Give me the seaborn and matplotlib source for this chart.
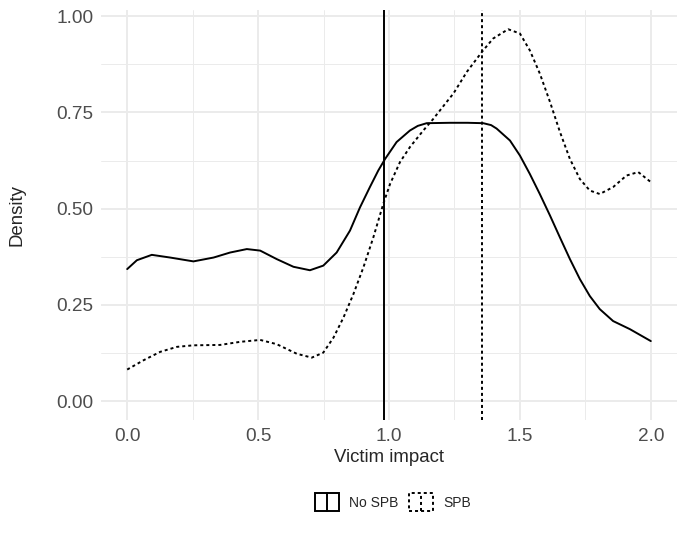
import matplotlib
matplotlib.use("Agg")
import matplotlib.pyplot as plt
import seaborn as sns
import pandas as pd
from matplotlib.patches import Rectangle
from matplotlib.lines import Line2D
from matplotlib.legend_handler import HandlerBase

# ---- data ----
groups = ["No SPB", "SPB"]
nospb_x = [0.0, 0.037, 0.094, 0.164, 0.253, 0.330, 0.393, 0.457, 0.508, 0.571, 0.635, 0.698, 0.749,
           0.800, 0.851, 0.889, 0.927, 0.959, 0.985, 1.029, 1.080, 1.110, 1.144, 1.233, 1.300, 1.360, 1.390,
           1.411, 1.462, 1.500, 1.538, 1.576, 1.615, 1.653, 1.691, 1.729, 1.767, 1.805, 1.856, 1.920, 2.0]
nospb_y = [0.343, 0.366, 0.380, 0.373, 0.363, 0.373, 0.386, 0.395, 0.391, 0.369, 0.349, 0.340, 0.352,
           0.386, 0.443, 0.503, 0.556, 0.599, 0.629, 0.673, 0.703, 0.715, 0.722, 0.723, 0.723, 0.722, 0.717,
           0.708, 0.677, 0.638, 0.590, 0.538, 0.482, 0.425, 0.369, 0.317, 0.273, 0.239, 0.208, 0.187, 0.156]
spb_x = [0.0, 0.062, 0.126, 0.190, 0.253, 0.355, 0.431, 0.508, 0.571, 0.648, 0.705, 0.749, 0.788,
         0.826, 0.864, 0.902, 0.940, 0.978, 1.004, 1.042, 1.080, 1.131, 1.169, 1.220, 1.246, 1.297,
         1.357, 1.398, 1.455, 1.500, 1.538, 1.576, 1.615, 1.653, 1.691, 1.729, 1.767, 1.805, 1.856,
         1.907, 1.952, 2.0]
spb_y = [0.082, 0.106, 0.128, 0.141, 0.145, 0.146, 0.154, 0.159, 0.148, 0.123, 0.113, 0.126, 0.165,
         0.217, 0.278, 0.347, 0.425, 0.512, 0.564, 0.621, 0.660, 0.703, 0.733, 0.777, 0.799, 0.855,
         0.909, 0.942, 0.966, 0.955, 0.911, 0.851, 0.777, 0.699, 0.629, 0.577, 0.547, 0.538, 0.556,
         0.586, 0.595, 0.569]
group_means = [0.982, 1.357]

x_ticks = [0.0, 0.5, 1.0, 1.5, 2.0]
x_ticklabels = ["0.0", "0.5", "1.0", "1.5", "2.0"]
y_ticks = [0.0, 0.25, 0.5, 0.75, 1.0]
y_ticklabels = ["0.00", "0.25", "0.50", "0.75", "1.00"]

sns.set_style("white")
plt.rcParams["font.family"] = ["Liberation Sans", "DejaVu Sans"]

W, H = 685, 535
fig = plt.figure(figsize=(W / 100, H / 100), dpi=100)
ax = fig.add_axes([101 / W, 1 - 420 / H, 576 / W, 410 / H])

dash = (0, (1.55, 1.55))
styles = ["-", dash]

df_a = pd.DataFrame({"x": nospb_x, "y": nospb_y})
df_b = pd.DataFrame({"x": spb_x, "y": spb_y})
sns.lineplot(data=df_a, x="x", y="y", ax=ax, color="black", lw=1.4, linestyle="-", zorder=5,
             solid_joinstyle="round")
sns.lineplot(data=df_b, x="x", y="y", ax=ax, color="black", lw=1.4, linestyle=dash, zorder=5)
for m, ls in zip(group_means, styles):
    ax.axvline(m, color="black", lw=1.4, linestyle=ls, zorder=5)

ax.set_xlim(-0.1, 2.1)
ax.set_ylim(-0.049, 1.016)
ax.set_xticks(x_ticks)
ax.set_xticklabels(x_ticklabels)
ax.set_yticks(y_ticks)
ax.set_yticklabels(y_ticklabels)
ax.set_xticks([0.25, 0.75, 1.25, 1.75], minor=True)
ax.set_yticks([0.125, 0.375, 0.625, 0.875], minor=True)
ax.grid(which="major", color="#EBEBEB", lw=1.4, zorder=0)
ax.grid(which="minor", color="#EBEBEB", lw=0.7, zorder=0)
ax.set_axisbelow(True)
for s in ax.spines.values():
    s.set_visible(False)
ax.tick_params(which="both", length=0)
ax.tick_params(axis="both", which="major", labelsize=13.7, labelcolor="#4D4D4D", pad=5.5)
ax.set_xlabel("Victim impact", fontsize=13.4, labelpad=3)
ax.set_ylabel("Density", fontsize=13.4, labelpad=22)


class KeyHandler(HandlerBase):
    def create_artists(self, legend, orig_handle, xdescent, ydescent, width, height, fontsize, trans):
        rect = Rectangle((-xdescent, -ydescent), width, height, fill=False, edgecolor="black",
                         lw=1.4, linestyle=orig_handle._key_ls, transform=trans)
        line = Line2D([-xdescent + width / 2] * 2, [-ydescent, -ydescent + height], color="black",
                      lw=1.4, linestyle=orig_handle._key_ls, transform=trans)
        return [rect, line]


handles = []
for ls in styles:
    h = Line2D([], [], color="black")
    h._key_ls = ls
    handles.append(h)

leg = fig.legend(handles, groups, loc="center", bbox_to_anchor=(393 / W, 1 - 502 / H), ncol=2,
                 frameon=False, fontsize=10, handlelength=1.73, handleheight=1.72, handletextpad=0.72,
                 columnspacing=0.72, handler_map={Line2D: KeyHandler()})

fig.savefig("out.png", dpi=100)
